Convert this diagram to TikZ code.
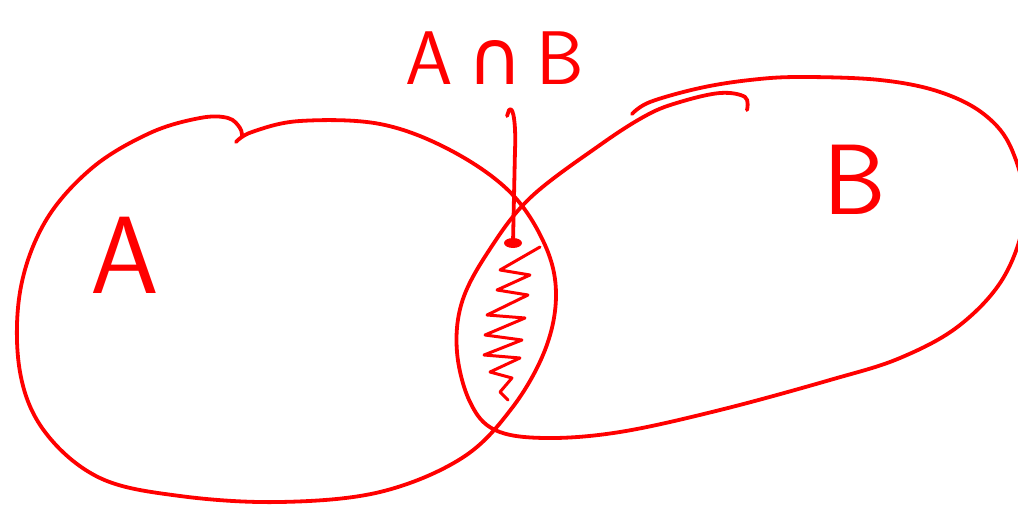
\documentclass[tikz,border=0pt]{standalone}
\usepackage{fontspec}
\newfontfamily\symfont{DejaVu Sans}
\begin{document}
\begin{tikzpicture}[x=1pt,y=-1pt,
  ink/.style={draw=red,line width=3.8pt,line cap=round,line join=round},
  lbl/.style={text=red,font=\sffamily,inner sep=0pt}]
\useasboundingbox[fill=white] (0,0) rectangle (1018,508);
% set A
\draw[ink] plot[smooth,tension=0.6] coordinates {
 (236,142) (252,132) (300,121) (380,124) (450,150) (510,192) (545,245) (556,295)
 (545,350) (512,408) (462,458) (380,492) (280,502) (180,496) (100,478)
 (45,432) (20,372) (20,292) (45,222) (92,168) (150,133) (200,118) (228,118) (240,128) (242,137)};
% set B
\draw[ink] plot[smooth,tension=0.6] coordinates {
 (747,110) (745,97) (720,93) (680,102) (647,115) (600,145) (530,198) (488,252)
 (462,302) (457,352) (470,402) (495,430) (545,438) (620,432) (720,410) (830,380)
 (900,358) (960,325) (1005,275) (1025,210) (1012,150) (985,115) (940,92) (880,80)
 (800,77) (750,80) (700,88) (650,102) (632,114)};
% shading of intersection
\draw[draw=red,line width=3pt,line join=round,line cap=round]
 (540,247) -- (500,270) -- (530,275) -- (497,290) -- (528,295) -- (487,315)
 -- (525,318) -- (485,335) -- (522,340) -- (484,355) -- (520,358) -- (490,372)
 -- (512,378) -- (500,392) -- (508,400);
% pointer
\coordinate (top) at (509,110);
\coordinate (tip) at (513,243);
\draw[ink] (507,116) -- (top) .. controls (514,104) and (516,130) .. (515,150) -- (tip);
\fill[red] (tip) ellipse (9pt and 5pt);
% labels
\node[lbl,font=\sffamily\fontsize{110}{110}\selectfont] (la) at (125,255) {A};
\node[lbl,font=\sffamily\fontsize{100}{100}\selectfont] (lb) at (855,180) {B};
\node[lbl,font=\sffamily\fontsize{76}{76}\selectfont] (lab) at (495,58) {A\hspace{14pt}{\symfont ∩}\hspace{14pt}B};
\end{tikzpicture}
\end{document}
